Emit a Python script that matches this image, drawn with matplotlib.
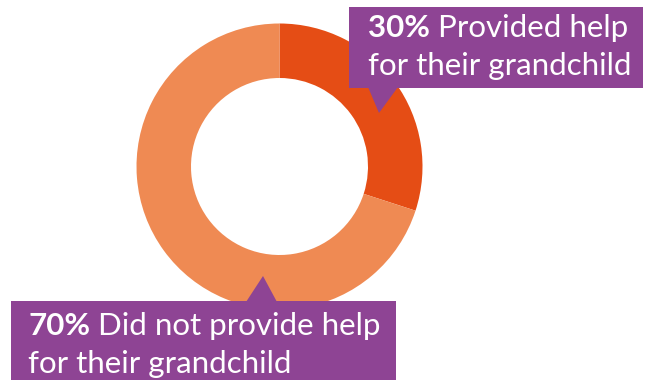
import matplotlib.pyplot as plt
from matplotlib.patches import Polygon

plt.rcParams['font.family'] = ['Lato', 'DejaVu Sans']

# share of grandparents, in percent
shares = [30, 70]
bold_labels = ['30%', '70%']
labels = ['Provided help\nfor their grandchild', 'Did not provide help\nfor their grandchild']
colors = ['#E54D15', '#EF8A53']
purple = '#8E4494'

W, H = 645, 380
fig = plt.figure(figsize=(W / 100, H / 100), dpi=100)
ax = fig.add_axes([0, 0, 1, 1])

cx, cy = 279.5, H - 166.5
r_out, r_in = 143, 88.5
ax.pie(shares, colors=colors, startangle=90, counterclock=False,
       radius=r_out, center=(cx, cy),
       wedgeprops=dict(width=r_out - r_in, linewidth=0))

ax.set_xlim(0, W)
ax.set_ylim(0, H)
ax.set_aspect('equal')
ax.axis('off')

FS = 22.5


def callout(x0, y0, x1, y1, tri, tx, ty, bold, rest):
    # box given in image pixels (y down), converted to axis coords
    box = [(x0, H - y0), (x1, H - y0), (x1, H - y1), (x0, H - y1)]
    ax.add_patch(Polygon(box, closed=True, facecolor=purple, edgecolor='none', zorder=3))
    ax.add_patch(Polygon([(x, H - y) for x, y in tri], closed=True,
                         facecolor=purple, edgecolor='none', zorder=3))
    first, second = rest.split('\n')
    t = ax.text(tx, H - ty, bold, fontsize=FS, fontweight='bold', color='white',
                va='baseline', ha='left', zorder=4)
    ax.annotate(' ' + first, xy=(1, 0), xycoords=t, fontsize=FS, color='white',
                va='bottom', ha='left', zorder=4)
    ax.text(tx, H - ty - 38, second, fontsize=FS, color='white',
            va='baseline', ha='left', zorder=4)


callout(349, 7, 643, 88, [(368, 87), (398, 87), (379, 113)], 368, 37,
        bold_labels[0], labels[0])
callout(11, 301, 396, 381, [(246, 302), (277, 302), (263, 276)], 28, 335,
        bold_labels[1], labels[1])

fig.savefig('out.png', dpi=100)
